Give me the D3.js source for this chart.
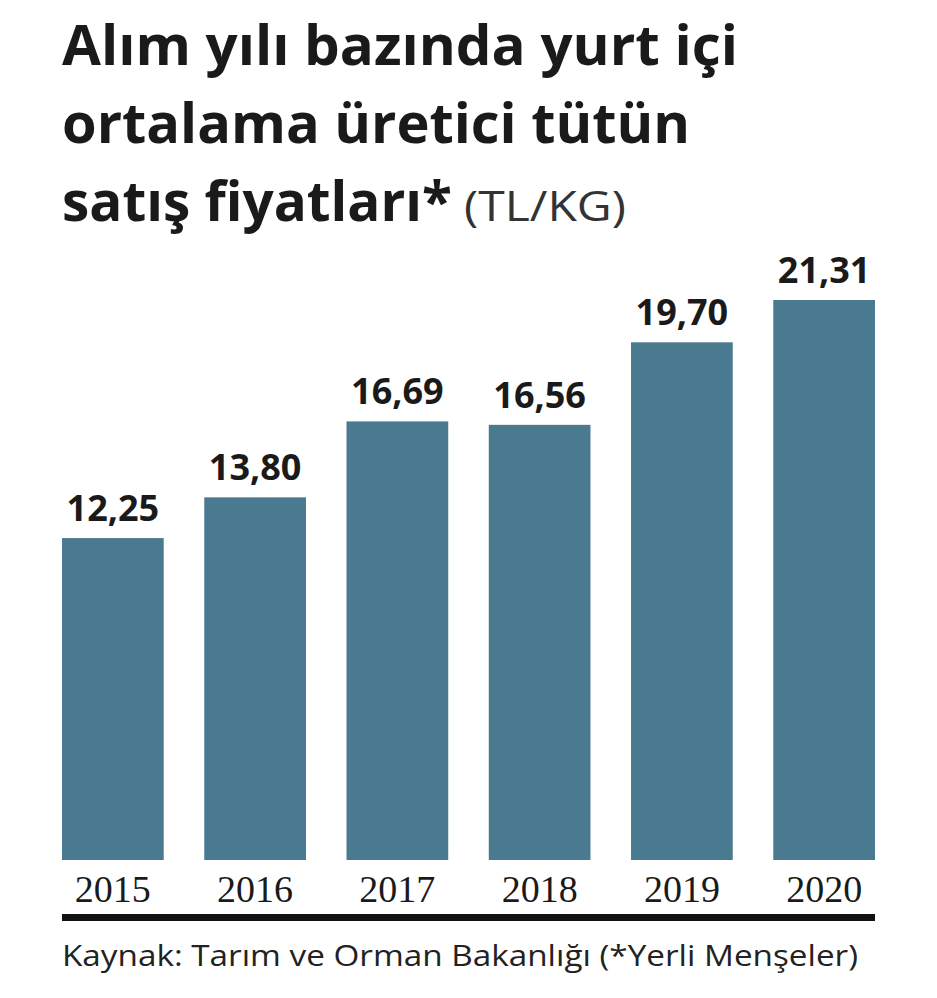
<!DOCTYPE html>
<html><head><meta charset="utf-8">
<script src="https://cdn.jsdelivr.net/npm/d3@7"></script>
<style>body{margin:0;background:#fff}</style></head>
<body><svg id="c" width="937" height="998"></svg>
<script>
const years = ["2015","2016","2017","2018","2019","2020"];
const values = [12.25,13.80,16.69,16.56,19.70,21.31];
const labels = ["12,25","13,80","16,69","16,56","19,70","21,31"];
const titleLines = ["Alım yılı bazında yurt içi","ortalama üretici tütün","satış fiyatları*"];
const unit = "(TL/KG)";
const source = "Kaynak: Tarım ve Orman Bakanlığı (*Yerli Menşeler)";

const svg = d3.select("#c");
const x = d3.scaleBand().domain(years).range([62,875]).paddingInner(0.285).paddingOuter(0);
const y = d3.scaleLinear().domain([0,21.31]).range([860,300]);
const tf = "'Liberation Sans Narrow','Open Sans',sans-serif";

titleLines.forEach((t,i)=>{
  const tx = svg.append("text").attr("x",62).attr("y",[65,143,221][i])
    .attr("font-family",tf).attr("font-weight","bold").attr("font-size",56).attr("fill","#1a1a1a").text(t);
  if(i===0) tx.attr("textLength",676).attr("lengthAdjust","spacingAndGlyphs");
  if(i===1) tx.attr("textLength",628).attr("lengthAdjust","spacingAndGlyphs");
  if(i===2) tx.attr("textLength",390).attr("lengthAdjust","spacingAndGlyphs");
});
svg.append("text").attr("x",464).attr("y",221).attr("font-family",tf).attr("font-size",42)
  .attr("fill","#333").attr("textLength",162).attr("lengthAdjust","spacingAndGlyphs").text(unit);

svg.selectAll("rect.bar").data(values).join("rect").attr("class","bar")
  .attr("x",(d,i)=>x(years[i])).attr("width",x.bandwidth())
  .attr("y",d=>y(d)).attr("height",d=>y(0)-y(d)).attr("fill","#4a7a8f");

svg.selectAll("text.val").data(values).join("text").attr("class","val")
  .attr("x",(d,i)=>x(years[i])+x.bandwidth()/2).attr("y",d=>y(d)-17)
  .attr("text-anchor","middle").attr("font-family",tf).attr("font-weight","bold")
  .attr("font-size",36).attr("fill","#1a1a1a").text((d,i)=>labels[i]);

svg.selectAll("text.yr").data(years).join("text").attr("class","yr")
  .attr("x",d=>x(d)+x.bandwidth()/2).attr("y",902).attr("text-anchor","middle")
  .attr("font-family","'Liberation Serif',serif").attr("font-size",38).attr("fill","#1a1a1a").text(d=>d);

svg.append("rect").attr("x",62).attr("y",914).attr("width",813).attr("height",7).attr("fill","#111");
svg.append("text").attr("x",62).attr("y",966).attr("font-family",tf).attr("font-size",30)
  .attr("fill","#222").attr("textLength",796).attr("lengthAdjust","spacingAndGlyphs").text(source);
</script></body></html>
